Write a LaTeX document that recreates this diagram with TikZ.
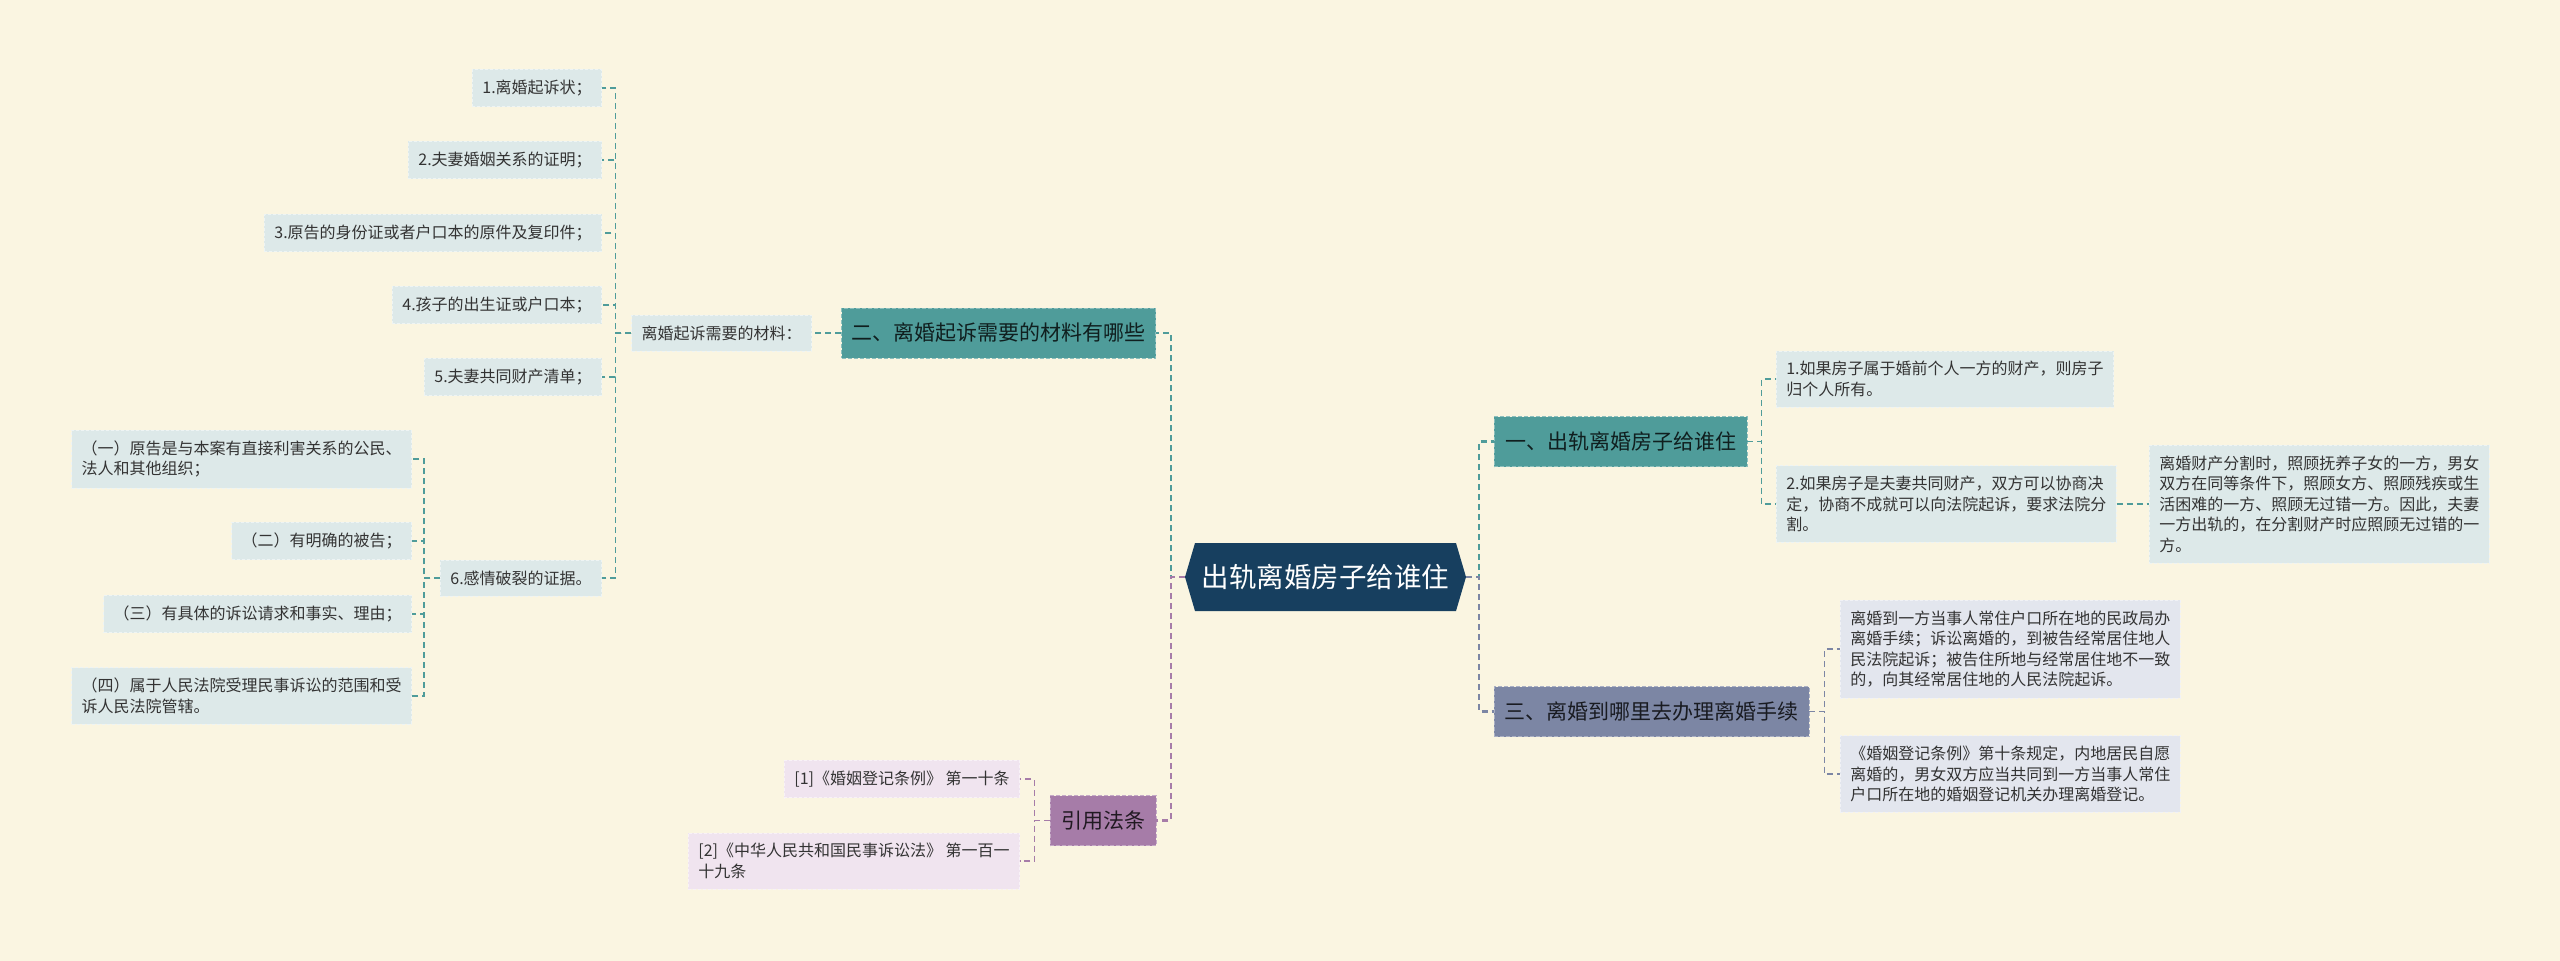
\documentclass[tikz,border=0pt]{standalone}
\usepackage{fontspec}
\setmainfont{Noto Sans CJK SC}
\definecolor{bgc}{HTML}{FAF5E1}
\definecolor{navyc}{HTML}{173F5F}
\definecolor{tealc}{HTML}{4F9C9A}
\definecolor{greyc}{HTML}{7C86A4}
\definecolor{plumc}{HTML}{A67CA8}
\definecolor{tleaf}{HTML}{DDE9E9}
\definecolor{gleaf}{HTML}{E3E6EE}
\definecolor{pleaf}{HTML}{F0E4EF}
\definecolor{inkc}{HTML}{333333}

\begin{document}
\begin{tikzpicture}[x=1pt,y=-1pt,
  root/.style={minimum width=281pt,minimum height=68pt,inner sep=0pt,fill=bgc,text=white,
    font=\fontsize{27.5}{30}\selectfont,
    path picture={\fill[navyc] (path picture bounding box.west)
      -- ([xshift=10pt]path picture bounding box.north west)
      -- ([xshift=-10pt]path picture bounding box.north east)
      -- (path picture bounding box.east)
      -- ([xshift=-10pt]path picture bounding box.south east)
      -- ([xshift=10pt]path picture bounding box.south west) -- cycle;}},
  branch/.style={minimum height=50pt,inner xsep=10pt,font=\fontsize{21}{24}\selectfont,
    line width=0.8pt,dash pattern=on 4pt off 2pt},
  tealbr/.style={branch,fill=tealc,draw=tealc!65!white,text=black!80!tealc},
  greybr/.style={branch,fill=greyc,draw=greyc!65!white,text=black!80!greyc},
  plumbr/.style={branch,fill=plumc,draw=plumc!65!white,text=black!80!plumc},
  leaf/.style={inner xsep=10pt,inner ysep=10.5pt,align=left,text=inkc,
    font=\fontsize{16}{20.5}\selectfont,line width=0.6pt,dash pattern=on 3pt off 2pt},
  tealleaf/.style={leaf,fill=tleaf,draw=tleaf!50!white},
  greyleaf/.style={leaf,fill=gleaf,draw=gleaf!50!white},
  plumleaf/.style={leaf,fill=pleaf,draw=pleaf!50!white},
  tealln/.style={draw=tealc,line width=1.4pt,dash pattern=on 6pt off 4pt},
  greyln/.style={draw=greyc,line width=1.4pt,dash pattern=on 6pt off 4pt},
  plumln/.style={draw=plumc,line width=1.4pt,dash pattern=on 6pt off 4pt},
  tealtrunk/.style={tealln,line width=2.2pt},
  greytrunk/.style={greyln,line width=2.2pt},
  plumtrunk/.style={plumln,line width=2.2pt}]
\fill[bgc] (0,0) rectangle (2560,961);

\node[root] (root) at (1325.5,577) {出轨离婚房子给谁住};

\node[tealbr,minimum width=313pt] (mat) at (998.5,333) {二、离婚起诉需要的材料有哪些};
\node[tealleaf,anchor=east] (need) at (812,333) {离婚起诉需要的材料：};
\node[tealleaf,anchor=east] (n1) at (602,88) {1.离婚起诉状；};
\node[tealleaf,anchor=east] (n2) at (602,160) {2.夫妻婚姻关系的证明；};
\node[tealleaf,anchor=east] (n3) at (602,233) {3.原告的身份证或者户口本的原件及复印件；};
\node[tealleaf,anchor=east] (n4) at (602,305) {4.孩子的出生证或户口本；};
\node[tealleaf,anchor=east] (n5) at (602,377) {5.夫妻共同财产清单；};
\node[tealleaf,anchor=east] (n6) at (602,578) {6.感情破裂的证据。};
\node[tealleaf,anchor=east] (e1) at (412,459) {（一）原告是与本案有直接利害关系的公民、\\法人和其他组织；};
\node[tealleaf,anchor=east] (e2) at (412,541) {（二）有明确的被告；};
\node[tealleaf,anchor=east] (e3) at (412,614) {（三）有具体的诉讼请求和事实、理由；};
\node[tealleaf,anchor=east] (e4) at (412,696) {（四）属于人民法院受理民事诉讼的范围和受\\诉人民法院管辖。};

\node[plumbr,minimum width=106pt] (law) at (1103,820.5) {引用法条};
\node[plumleaf,anchor=east] (law1) at (1020,779) {[1]《婚姻登记条例》 第一十条};
\node[plumleaf,anchor=east] (law2) at (1020,861) {[2]《中华人民共和国民事诉讼法》 第一百一\\十九条};

\node[tealbr,minimum width=253pt] (house) at (1620.5,441.5) {一、出轨离婚房子给谁住};
\node[tealleaf,anchor=west] (h1) at (1776,379) {1.如果房子属于婚前个人一方的财产，则房子\\归个人所有。};
\node[tealleaf,anchor=west] (h2) at (1776,504) {2.如果房子是夫妻共同财产，双方可以协商决\\定，协商不成就可以向法院起诉，要求法院分\\割。};
\node[tealleaf,anchor=west] (h3) at (2149,504) {离婚财产分割时，照顾抚养子女的一方，男女\\双方在同等条件下，照顾女方、照顾残疾或生\\活困难的一方、照顾无过错一方。因此，夫妻\\一方出轨的，在分割财产时应照顾无过错的一\\方。};

\node[greybr,minimum width=315pt] (where) at (1651.5,711.5) {三、离婚到哪里去办理离婚手续};
\node[greyleaf,anchor=west] (w1) at (1840,649) {离婚到一方当事人常住户口所在地的民政局办\\离婚手续；诉讼离婚的，到被告经常居住地人\\民法院起诉；被告住所地与经常居住地不一致\\的，向其经常居住地的人民法院起诉。};
\node[greyleaf,anchor=west] (w2) at (1840,774) {《婚姻登记条例》第十条规定，内地居民自愿\\离婚的，男女双方应当共同到一方当事人常住\\户口所在地的婚姻登记机关办理离婚登记。};

\draw[tealtrunk] (root.west) -- ++(-14,0) |- (mat.east);
\draw[plumtrunk] (root.west) -- ++(-14,0) |- (law.east);
\draw[tealtrunk] (root.east) -- ++(13,0) |- (house.west);
\draw[greytrunk] (root.east) -- ++(13,0) |- (where.west);

\draw[tealln] (mat.west) -- (need.east);
\foreach \i in {1,...,6}
  \draw[tealln] (need.west) -- ++(-16,0) |- (n\i.east);
\foreach \i in {1,...,4}
  \draw[tealln] (n6.west) -- ++(-16,0) |- (e\i.east);
\foreach \i in {1,2}
  \draw[plumln] (law.west) -- ++(-15,0) |- (law\i.east);
\foreach \i in {1,2}
  \draw[tealln] (house.east) -- ++(14,0) |- (h\i.west);
\draw[tealln] (h2.east) -- (h3.west);
\foreach \i in {1,2}
  \draw[greyln] (where.east) -- ++(15,0) |- (w\i.west);
\end{tikzpicture}
\end{document}
